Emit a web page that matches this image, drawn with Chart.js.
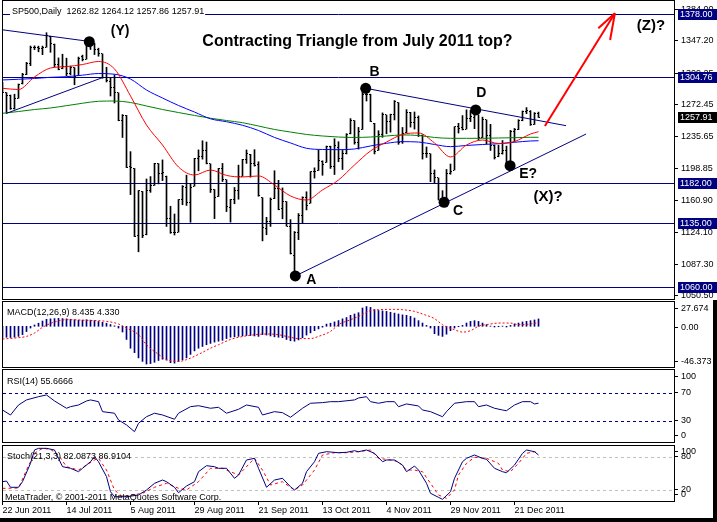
<!DOCTYPE html>
<html>
<head>
<meta charset="utf-8">
<title>SP500 Daily</title>
<script src="https://cdn.jsdelivr.net/npm/chart.js@4.4.1/dist/chart.umd.min.js"></script>
<style>
  html, body { margin: 0; padding: 0; background: #fff; }
  #page { position: relative; width: 717px; height: 522px; overflow: hidden; background: #fff; }
  #page canvas { position: absolute; left: 0; }
  #edgeB { position: absolute; left: 0; top: 518px; width: 717px; height: 4px; background: #000; }
  #edgeR { position: absolute; left: 713px; top: 300px; width: 4px; height: 222px; background: #000; }
</style>
</head>
<body>
<div id="page">
  <canvas id="mainPanel" width="717" height="300" style="top:0px"></canvas>
  <canvas id="macdPanel" width="717" height="68" style="top:300px"></canvas>
  <canvas id="rsiPanel" width="717" height="75" style="top:368px"></canvas>
  <canvas id="stochPanel" width="717" height="79" style="top:443px"></canvas>
  <div id="edgeB"></div>
  <div id="edgeR"></div>
</div>
<script>
// ---- daily bars, 22 Jun 2011 .. 30 Dec 2011 ----
const opens = [
  1295.48,1286.60,1283.04,1268.44,1280.21,1296.85,1307.64,1320.64,1339.67,1339.59,
  1337.56,1339.62,1352.39,1343.31,1319.61,1314.45,1317.74,1308.87,1315.94,1307.07,
  1328.66,1325.65,1343.80,1344.32,1337.39,1331.91,1304.84,1300.12,1292.59,1286.56,
  1254.25,1260.23,1200.28,1198.48,1120.23,1171.77,1121.30,1172.87,1178.86,1204.22,
  1192.89,1189.62,1140.47,1123.55,1124.36,1162.16,1176.69,1158.85,1177.91,1209.76,
  1213.00,1219.12,1203.90,1173.97,1165.85,1197.98,1185.37,1153.50,1162.59,1173.32,
  1189.44,1209.21,1214.99,1204.50,1203.63,1164.55,1128.82,1136.91,1163.32,1175.39,
  1151.74,1159.93,1131.21,1097.42,1124.03,1144.11,1165.03,1158.15,1194.60,1196.19,
  1206.96,1205.65,1224.47,1200.75,1223.46,1209.92,1215.39,1238.72,1254.19,1229.17,
  1243.97,1284.39,1284.96,1251.00,1219.62,1238.25,1260.82,1253.21,1261.12,1275.18,
  1229.59,1240.12,1263.85,1251.70,1257.81,1236.56,1216.19,1215.62,1192.98,1187.48,
  1161.41,1158.67,1192.56,1196.72,1246.91,1246.03,1244.33,1257.19,1258.14,1260.87,
  1234.48,1255.05,1236.83,1225.73,1212.12,1216.09,1219.74,1205.72,1241.25,1243.72,
  1254.00,1265.02,1265.38,1249.75,1262.82
];
const highs = [
  1298.61,1286.79,1283.93,1284.91,1296.80,1309.21,1321.97,1341.01,1341.20,1340.89,
  1340.94,1356.48,1352.39,1343.31,1327.17,1331.48,1326.88,1317.70,1315.94,1328.14,
  1330.43,1347.00,1346.10,1344.32,1338.51,1331.91,1316.32,1304.16,1307.38,1286.56,
  1261.20,1260.23,1218.11,1198.48,1172.88,1171.77,1186.29,1189.04,1204.49,1204.22,
  1208.47,1189.62,1154.54,1145.49,1162.35,1178.56,1190.68,1181.23,1210.28,1220.10,
  1230.71,1229.29,1203.90,1173.97,1198.62,1204.40,1185.37,1162.52,1176.41,1202.38,
  1209.11,1220.06,1214.99,1220.39,1206.30,1164.55,1141.72,1164.19,1195.86,1184.71,
  1175.87,1159.93,1138.99,1125.12,1146.07,1165.55,1171.40,1194.91,1199.24,1220.25,
  1207.46,1224.61,1224.47,1233.10,1229.64,1219.53,1239.03,1256.55,1254.19,1246.28,
  1292.66,1287.08,1284.96,1251.00,1242.48,1263.21,1260.82,1261.70,1277.55,1275.18,
  1246.22,1266.98,1263.85,1264.25,1259.61,1237.73,1223.51,1215.62,1196.81,1187.48,
  1172.66,1197.35,1203.67,1247.11,1251.09,1260.08,1266.73,1266.03,1267.06,1260.87,
  1258.25,1255.05,1249.86,1225.73,1225.60,1231.04,1224.57,1242.82,1245.09,1255.22,
  1265.42,1269.37,1265.85,1263.54,1264.12
];
const lows = [
  1286.79,1262.67,1267.24,1267.53,1280.21,1296.85,1307.64,1318.18,1336.80,1334.30,
  1330.92,1339.62,1333.71,1316.42,1313.33,1314.45,1306.51,1307.35,1295.92,1307.07,
  1323.65,1325.65,1336.95,1331.09,1329.10,1303.49,1299.16,1282.86,1274.73,1254.03,
  1234.56,1199.54,1168.09,1119.28,1101.54,1118.01,1121.30,1170.74,1178.86,1180.53,
  1184.36,1131.03,1123.05,1121.09,1124.36,1156.30,1155.47,1135.91,1177.91,1195.77,
  1209.35,1203.85,1170.56,1140.13,1165.85,1183.34,1148.37,1136.07,1157.44,1162.73,
  1189.44,1204.46,1188.36,1201.29,1166.21,1114.22,1121.36,1131.07,1163.32,1150.40,
  1139.93,1131.34,1098.92,1074.77,1115.68,1134.95,1150.26,1158.15,1187.30,1196.19,
  1190.58,1205.65,1198.55,1191.48,1206.31,1197.34,1215.39,1238.72,1226.79,1221.06,
  1243.97,1277.01,1253.16,1215.42,1219.62,1234.81,1238.92,1240.75,1254.99,1226.64,
  1227.70,1240.12,1246.68,1244.34,1235.67,1209.43,1211.36,1183.16,1181.65,1161.79,
  1158.66,1158.67,1191.80,1196.72,1239.73,1243.35,1244.33,1253.03,1244.80,1231.47,
  1234.48,1227.25,1219.43,1209.47,1212.12,1215.20,1202.37,1205.72,1229.51,1243.72,
  1254.00,1262.30,1248.64,1249.75,1257.86
];
const closes = [
  1287.14,1283.50,1268.45,1280.10,1296.67,1307.41,1320.64,1339.67,1338.90,1337.88,
  1339.22,1353.22,1343.80,1319.49,1313.64,1317.72,1308.87,1316.14,1305.44,1326.73,
  1325.84,1343.80,1345.02,1337.43,1331.94,1304.89,1300.67,1292.28,1286.94,1254.05,
  1260.34,1200.07,1199.38,1119.46,1172.53,1120.76,1172.64,1178.81,1204.49,1192.76,
  1193.89,1140.65,1123.53,1123.82,1162.35,1177.60,1159.27,1176.80,1210.08,1212.92,
  1218.89,1204.42,1173.97,1165.24,1198.62,1185.90,1154.23,1162.27,1172.87,1188.68,
  1209.11,1216.01,1204.09,1202.09,1166.76,1129.56,1136.43,1162.95,1175.38,1151.06,
  1160.40,1131.42,1099.23,1123.95,1144.03,1164.97,1155.46,1194.89,1195.54,1207.25,
  1203.66,1224.58,1200.86,1225.38,1209.88,1215.39,1238.25,1254.19,1229.05,1242.00,
  1284.59,1285.09,1253.30,1218.28,1237.90,1261.15,1253.23,1261.12,1275.92,1229.10,
  1239.70,1263.85,1251.78,1257.81,1236.91,1216.13,1215.65,1192.98,1188.04,1161.79,
  1158.67,1192.55,1195.19,1246.96,1244.58,1244.28,1257.08,1258.47,1261.01,1234.35,
  1255.19,1236.47,1225.73,1211.82,1215.75,1219.66,1205.35,1241.30,1243.72,1254.00,
  1265.33,1265.43,1249.64,1263.02,1257.91
];

const dateTickBars = [0, 16, 32, 48, 64, 80, 96, 112, 128];
const dateTicks = ['22 Jun 2011', '14 Jul 2011', '5 Aug 2011', '29 Aug 2011', '21 Sep 2011',
                   '13 Oct 2011', '4 Nov 2011', '29 Nov 2011', '21 Dec 2011'];

// moving averages every 4 bars
const maBars = [0,4,8,12,16,20,24,28,32,36,40,44,48,52,56,60,64,68,72,76,80,84,88,92,96,100,104,108,112,116,120,124,128,132,134];
const redMA = [1291.8,1290.4,1305.0,1315.4,1317.0,1319.5,1323.0,1314.3,1282.9,1249.1,1225.8,1200.2,1190.9,1196.7,1190.4,1188.6,1189.8,1179.3,1166.5,1161.8,1173.5,1185.1,1202.6,1218.9,1229.3,1238.1,1239.8,1228.2,1211.9,1225.8,1231.6,1227.6,1229.9,1238.6,1241.3];
const blueMA = [1301.5,1302.3,1303.2,1304.6,1305.3,1307.1,1309.0,1308.2,1302.6,1289.8,1280.5,1271.8,1264.2,1256.3,1252.9,1248.8,1242.7,1234.6,1228.2,1222.0,1220.6,1220.4,1221.2,1224.7,1227.8,1229.7,1229.3,1226.4,1223.9,1225.3,1226.4,1227.3,1229.0,1230.5,1230.8];
const greenMA = [1262.7,1264.8,1267.1,1268.9,1271.6,1274.4,1276.7,1277.0,1275.3,1271.2,1267.1,1263.6,1260.2,1257.0,1254.3,1251.8,1247.9,1243.9,1240.9,1238.1,1236.3,1235.1,1234.6,1235.1,1236.3,1237.5,1236.9,1234.6,1233.6,1233.6,1233.6,1234.0,1234.3,1234.8,1234.8];

const priceTicks = [1384.00, 1347.20, 1309.25, 1272.45, 1235.65, 1198.85, 1160.90, 1124.10, 1087.30, 1050.50];
const levels = [1378.00, 1304.76, 1182.00, 1135.00, 1060.00];
const lastPrice = 1257.91;

// wave marks (bar, price)
const dotBars = [21.7, 73.2, 90.8, 110.4, 118.3, 126.9];
const dotPrices = [1346.0, 1073.4, 1291.8, 1159.2, 1266.6, 1201.7];
const waveLabels = ['(Y)', 'A', 'B', 'C', 'D', 'E?', '(X)?', '(Z)?'];
const waveLabelBars = [29.4, 77.2, 93.0, 113.9, 119.7, 131.4, 136.4, 162.1];
const waveLabelPrices = [1358.1, 1068.2, 1311.1, 1148.7, 1286.0, 1192.3, 1165.7, 1364.0];
const titleText = 'Contracting Triangle from July 2011 top?';

// trend lines (bar, price pairs)
const topLine = [[-1, 1360.5], [21.0, 1346.8]];
const waveLine = [[1, 1262.67], [25.2, 1304.6]];
const bdLine = [[90.8, 1291.8], [140.9, 1248.3]];
const aceLine = [[73.2, 1073.4], [145.9, 1238.6]];
const arrowShaft = [[135.6, 1247.9], [153.1, 1379.1]];
const arrowHeadA = [[148.95, 1361.6], [153.1, 1379.1]];
const arrowHeadB = [[151.9, 1348.0], [153.1, 1379.1]];

// MACD(12,26,9)
const macdHist = [
  -12.6,-12.5,-12.8,-12.4,-11.5,-9.5,-6.0,-2.0,1.5,3.5,
  6.0,8.0,8.5,8.8,9.0,8.8,8.5,8.0,7.5,7.0,
  7.0,7.5,7.0,6.5,5.5,4.5,3.5,2.0,0.5,-2.0,
  -6.5,-15,-25,-30,-36,-40,-43,-42.5,-41,-39,
  -37.5,-38.5,-41.5,-42,-40,-38,-36,-32,-28,-25,
  -23,-21,-19.5,-18,-17,-16,-14,-12.5,-12,-11.5,
  -11,-10.5,-10.5,-11,-11.5,-9.5,-10,-11,-12,-12.5,
  -13,-15,-16.5,-17,-15.5,-13,-10,-7.5,-5,-3,
  -1,2.5,3.5,5,6.5,8.5,10,12.5,14,15.5,
  20.8,22.5,21.5,19,18,17.5,17,16,15,14,
  13,12.5,11.3,9.4,6.4,3.7,1,-2,-8.4,-10.3,
  -11.5,-9,-5,-2,-0.5,1,3.7,5.6,6.4,5.6,
  3.7,1.8,0.2,-0.8,-0.5,0.2,-0.8,1,2.6,3.7,
  4.9,5.6,6.4,7.2,8.4
];
const signalBars = [0,3,6,8,10,13,16,21,26,29,31,34,36,39,41,44,46,49,52,54,57,59,63,66,69,72,74,77,79,82,84,87,89,92,94,98,100,103,105,108,110,113,115,117,119,122,124,127,129,132,134];
const signalVals = [-14.5,-13.4,-11.5,-7.7,-1.2,4.9,7.5,6.8,5.6,2.6,-2,-9.6,-21,-32,-38,-40,-38,-32,-25,-21,-15,-12.6,-9.6,-8.8,-9.6,-12.6,-14,-14,-11.5,-5.8,1.8,7.5,11.3,17.8,18.9,19.3,18.9,17,14,8.7,1.8,-3.9,-6.6,-5,0,2.6,3.7,3.7,1.8,2.6,4.3];
const macdTickLabels = ['27.674', '0.00', '-46.373'];

// RSI(14)
const rsiBars = [0,2,4,6,9,11,13,16,17,19,21,22,24,25,28,29,31,33,34,36,38,40,43,44,47,49,52,54,56,59,61,64,65,68,70,72,75,77,80,82,84,88,89,91,92,94,96,98,99,101,104,105,107,110,111,113,116,118,119,121,123,125,126,128,130,132,133,134];
const rsiVals = [45.9,38.7,53.1,60.4,65.1,67.6,58.9,48.4,50.7,53.1,58.9,60.4,57.9,43.5,41.2,31.5,24.3,14.6,26.7,36.2,41.2,38.7,32.5,41.2,50.7,52.1,48.4,49.8,41.2,46.9,53.1,49.8,38.7,43.5,42,35.4,48.4,55.6,56.5,57.9,57.9,60.4,63.2,65.1,57.9,55.6,57.9,57.9,50.7,54.6,51.7,45.9,43.5,36.2,43.5,55.6,57.9,57.9,50.7,53.1,48.4,45.9,44.9,53.1,57.9,57.9,54.6,55.7];
const rsiLevels = [70, 30];
const rsiTickLabels = ['100', '70', '30', '0'];

// Stochastic(21,3,3)
const stochKBars = [0,1,2,4,5,7,8,9,11,13,14,15,17,19,20,22,23,24,26,27,28,31,34,36,38,40,41,43,44,46,48,49,51,53,54,56,58,59,61,63,64,66,68,70,72,73,75,76,78,79,81,84,86,88,89,91,93,95,96,98,100,101,103,104,106,107,109,110,112,113,115,116,118,120,121,123,125,126,128,130,131,133,134];
const stochK = [35,36.2,24.9,24.9,35,68.1,92.1,95.1,95.1,92.1,77.1,62,59.1,53,59.1,71,80,71,44,16.9,7.9,7.9,11,20,32,38,35,24.9,15.1,27.2,35,53,63.8,62,59.1,59.1,41.1,47,74.1,77.1,59.1,24.9,38,41.1,25.9,20,32.1,53,71,86.1,89,87.2,87.9,90.8,89,92.1,86.1,71,74.1,74.1,65,53,63.2,56,32.1,14.1,6.8,3.2,16.9,41.1,71,77.1,83.1,77.1,75.3,59.1,53,51.2,65,86.1,92.1,89,83.1];
const stochDBars = [0,4,6,8,10,12,14,16,19,23,24,26,28,30,35,38,41,44,46,49,52,55,59,63,65,67,70,73,75,78,80,83,86,89,92,94,97,99,101,103,105,107,109,111,113,114,116,118,121,124,125,127,129,131,133,134];
const stochD = [23,23.6,56,86.1,95.1,93.3,83.1,62,56,74.1,77.1,56,20,7.9,14.1,24.9,32.1,23.1,20,35,59.1,59.1,47,77.1,56,29,35,20,29,56,83.1,87.2,87.2,89,92.1,77.1,74.1,71,56,56,53,32.1,11,5,20,47,68.1,78.9,77.1,68.1,56,53,68.1,86.1,89,86.9];
const stochLevels = [80, 20];
const stochTickLabels = ['100', '80', '20', '0'];

// ---- styling and helpers ----
const NAVY = '#000080';
const FONT = '"Liberation Sans", Arial, sans-serif';
const FONT9 = '9px ' + FONT;
Chart.defaults.font.family = FONT;
Chart.defaults.font.size = 9;
Chart.defaults.color = '#000';

const pts = (xs, ys) => xs.map((x, k) => ({ x: x, y: ys[k] }));
const seg = pairs => pairs.map(p => ({ x: p[0], y: p[1] }));
const allBars = closes.map((_, i) => i);

function tickImage(side) {
  const c = document.createElement('canvas');
  c.width = 3; c.height = 1;
  const g = c.getContext('2d');
  g.fillStyle = '#000';
  g.fillRect(side === 'open' ? 0 : 2, 0, 1, 1);
  return c;
}

function xAxis(show) {
  return {
    type: 'linear', min: 0.125, max: 167.875, display: show, offset: false,
    afterFit: s => { s.height = show ? 21 : 0; s.paddingLeft = 0; s.paddingRight = 0; },
    afterBuildTicks: s => { s.ticks = dateTickBars.map(v => ({ value: v })); },
    ticks: { callback: (v, i) => dateTicks[i], align: 'start', padding: 0, maxRotation: 0, minRotation: 0, autoSkip: false },
    grid: { drawOnChartArea: false, tickLength: 4, color: '#000', offset: false },
    border: { display: false }
  };
}

function yAxis(min, max, tickVals, labelFn) {
  return {
    type: 'linear', position: 'right', min: min, max: max,
    afterFit: s => { s.width = 43; s.paddingTop = 0; s.paddingBottom = 0; },
    afterBuildTicks: s => { s.ticks = tickVals.map(v => ({ value: v })); },
    ticks: { callback: labelFn, padding: 3, autoSkip: false },
    grid: { drawOnChartArea: false, tickLength: 4, color: '#000' },
    border: { display: false }
  };
}

function baseOptions(padding, y, showX) {
  return {
    responsive: false, animation: false, devicePixelRatio: 1, events: [],
    layout: { padding: padding, autoPadding: false },
    plugins: { legend: { display: false }, tooltip: { enabled: false } },
    scales: { x: xAxis(showX), y: y }
  };
}

function lineSet(data, color, width, extra) {
  return Object.assign({ type: 'line', data: data, borderColor: color, borderWidth: width,
    pointRadius: 0, fill: false, tension: 0 }, extra || {});
}

// ---- main price panel ----
const mainDecor = {
  id: 'mainDecor',
  beforeDatasetsDraw(chart) {
    const { ctx, chartArea: a, scales: { y } } = chart;
    ctx.save();
    ctx.strokeStyle = NAVY; ctx.lineWidth = 1;
    levels.forEach(v => {
      const py = Math.round(y.getPixelForValue(v)) + 0.5;
      ctx.beginPath(); ctx.moveTo(a.left, py); ctx.lineTo(a.right, py); ctx.stroke();
    });
    ctx.restore();
  },
  afterDraw(chart) {
    const { ctx, chartArea: a, scales: { x, y } } = chart;
    ctx.save();
    // price boxes on the axis
    ctx.font = FONT9; ctx.textBaseline = 'middle'; ctx.textAlign = 'left';
    const box = (v, bg) => {
      const py = Math.round(y.getPixelForValue(v));
      ctx.fillStyle = bg; ctx.fillRect(a.right + 4, py - 5, 717 - a.right - 4, 11);
      ctx.fillStyle = '#fff'; ctx.fillText(v.toFixed(2), a.right + 6, py + 0.5);
    };
    levels.forEach(v => box(v, NAVY));
    box(lastPrice, '#000');
    // wave labels
    ctx.fillStyle = '#000'; ctx.textAlign = 'center';
    waveLabels.forEach((t, k) => {
      ctx.font = 'bold ' + (t.length > 3 ? 15 : 14) + 'px ' + FONT;
      ctx.fillText(t, x.getPixelForValue(waveLabelBars[k]), y.getPixelForValue(waveLabelPrices[k]));
    });
    ctx.font = 'bold 16px ' + FONT;
    ctx.fillText(titleText, x.getPixelForValue(88.75), y.getPixelForValue(1346.6));
    // header
    ctx.font = FONT9; ctx.textAlign = 'left'; ctx.textBaseline = 'alphabetic';
    const head = 'SP500,Daily  1262.82 1264.12 1257.86 1257.91';
    const w = ctx.measureText(head).width;
    ctx.fillStyle = '#fff'; ctx.fillRect(10, 3, w + 3, 12);
    ctx.fillStyle = '#000'; ctx.fillText(head, 12, 14);
    // frame
    ctx.strokeStyle = '#000'; ctx.lineWidth = 1;
    ctx.strokeRect(2.5, 0.5, a.right - 2, a.bottom);
    ctx.restore();
  }
};

new Chart(document.getElementById('mainPanel'), {
  type: 'bar',
  data: {
    datasets: [
      { type: 'scatter', data: pts(dotBars, dotPrices), pointRadius: 5.5, backgroundColor: '#000', borderWidth: 0 },
      lineSet(seg(arrowShaft), '#ff0000', 2),
      lineSet(seg(arrowHeadA), '#ff0000', 2),
      lineSet(seg(arrowHeadB), '#ff0000', 2),
      lineSet(seg(topLine), NAVY, 1),
      lineSet(seg(waveLine), NAVY, 1),
      lineSet(seg(bdLine), NAVY, 1),
      lineSet(seg(aceLine), NAVY, 1),
      lineSet(pts(maBars, redMA), '#ff0000', 1, { cubicInterpolationMode: 'monotone' }),
      lineSet(pts(maBars, blueMA), '#0000ff', 1, { cubicInterpolationMode: 'monotone' }),
      lineSet(pts(maBars, greenMA), '#008000', 1, { cubicInterpolationMode: 'monotone' }),
      { type: 'bar', data: allBars.map(i => ({ x: i, y: [lows[i], highs[i]] })),
        backgroundColor: '#000', barThickness: 1, borderWidth: 0 },
      { type: 'scatter', data: pts(allBars, opens), pointStyle: tickImage('open'), pointRadius: 1 },
      { type: 'scatter', data: pts(allBars, closes), pointStyle: tickImage('close'), pointRadius: 1 }
    ]
  },
  options: baseOptions({ left: 3, right: 0, top: 1, bottom: 1 },
    yAxis(1046.6, 1393.4, priceTicks, v => v.toFixed(2)), false),
  plugins: [mainDecor]
});

// ---- indicator panels ----
function panelDecor(id, frameTop, frameBottom, title, titleBase, guides, guideColor, footer) {
  return {
    id: id,
    beforeDatasetsDraw(chart) {
      if (!guides) return;
      const { ctx, chartArea: a, scales: { y } } = chart;
      ctx.save();
      ctx.strokeStyle = guideColor; ctx.lineWidth = 1; ctx.setLineDash([3, 3]);
      guides.forEach(v => {
        const py = Math.round(y.getPixelForValue(v)) + 0.5;
        ctx.beginPath(); ctx.moveTo(a.left, py); ctx.lineTo(a.right, py); ctx.stroke();
      });
      ctx.restore();
    },
    afterDraw(chart) {
      const { ctx, chartArea: a } = chart;
      ctx.save();
      ctx.strokeStyle = '#000'; ctx.lineWidth = 1;
      ctx.strokeRect(2.5, frameTop + 0.5, a.right - 2, frameBottom - frameTop);
      ctx.fillStyle = '#000'; ctx.font = FONT9; ctx.textAlign = 'left'; ctx.textBaseline = 'alphabetic';
      ctx.fillText(title, 7, titleBase);
      if (footer) ctx.fillText(footer, 5, frameBottom - 1);
      ctx.restore();
    }
  };
}

new Chart(document.getElementById('macdPanel'), {
  type: 'bar',
  data: {
    datasets: [
      lineSet(pts(signalBars, signalVals), '#ff0000', 1, { borderDash: [2, 2], cubicInterpolationMode: 'monotone' }),
      { type: 'bar', data: pts(allBars, macdHist), backgroundColor: NAVY, barThickness: 1, borderWidth: 0 }
    ]
  },
  options: baseOptions({ left: 3, right: 0, top: 2, bottom: 1 },
    yAxis(-46.373, 27.674, [19.7, -1.1, -40.3], (v, i) => macdTickLabels[i]), false),
  plugins: [panelDecor('macdDecor', 1, 67, 'MACD(12,26,9) 8.435 4.330', 15)]
});

new Chart(document.getElementById('rsiPanel'), {
  type: 'line',
  data: { datasets: [lineSet(pts(rsiBars, rsiVals), NAVY, 1)] },
  options: baseOptions({ left: 3, right: 0, top: 2, bottom: 1 },
    yAxis(-0.3, 103.6, [93.9, 70.9, 30.4, 8.4], (v, i) => rsiTickLabels[i]), false),
  plugins: [panelDecor('rsiDecor', 1, 74, 'RSI(14) 55.6666', 16, rsiLevels, NAVY)]
});

new Chart(document.getElementById('stochPanel'), {
  type: 'line',
  data: {
    datasets: [
      lineSet(pts(stochKBars, stochK), NAVY, 1),
      lineSet(pts(stochDBars, stochD), '#ff0000', 1, { borderDash: [3, 3] })
    ]
  },
  options: baseOptions({ left: 3, right: 0, top: 3, bottom: 0 },
    yAxis(0.2, 99.3, [89.0, 80, 21.3, 11.1], (v, i) => stochTickLabels[i]), true),
  plugins: [panelDecor('stochDecor', 2, 58, 'Stoch(21,3,3) 82.0873 86.9104', 16, stochLevels, '#c0c0c0',
    'MetaTrader, \u00a9 2001-2011 MetaQuotes Software Corp.')]
});
</script>
</body>
</html>
